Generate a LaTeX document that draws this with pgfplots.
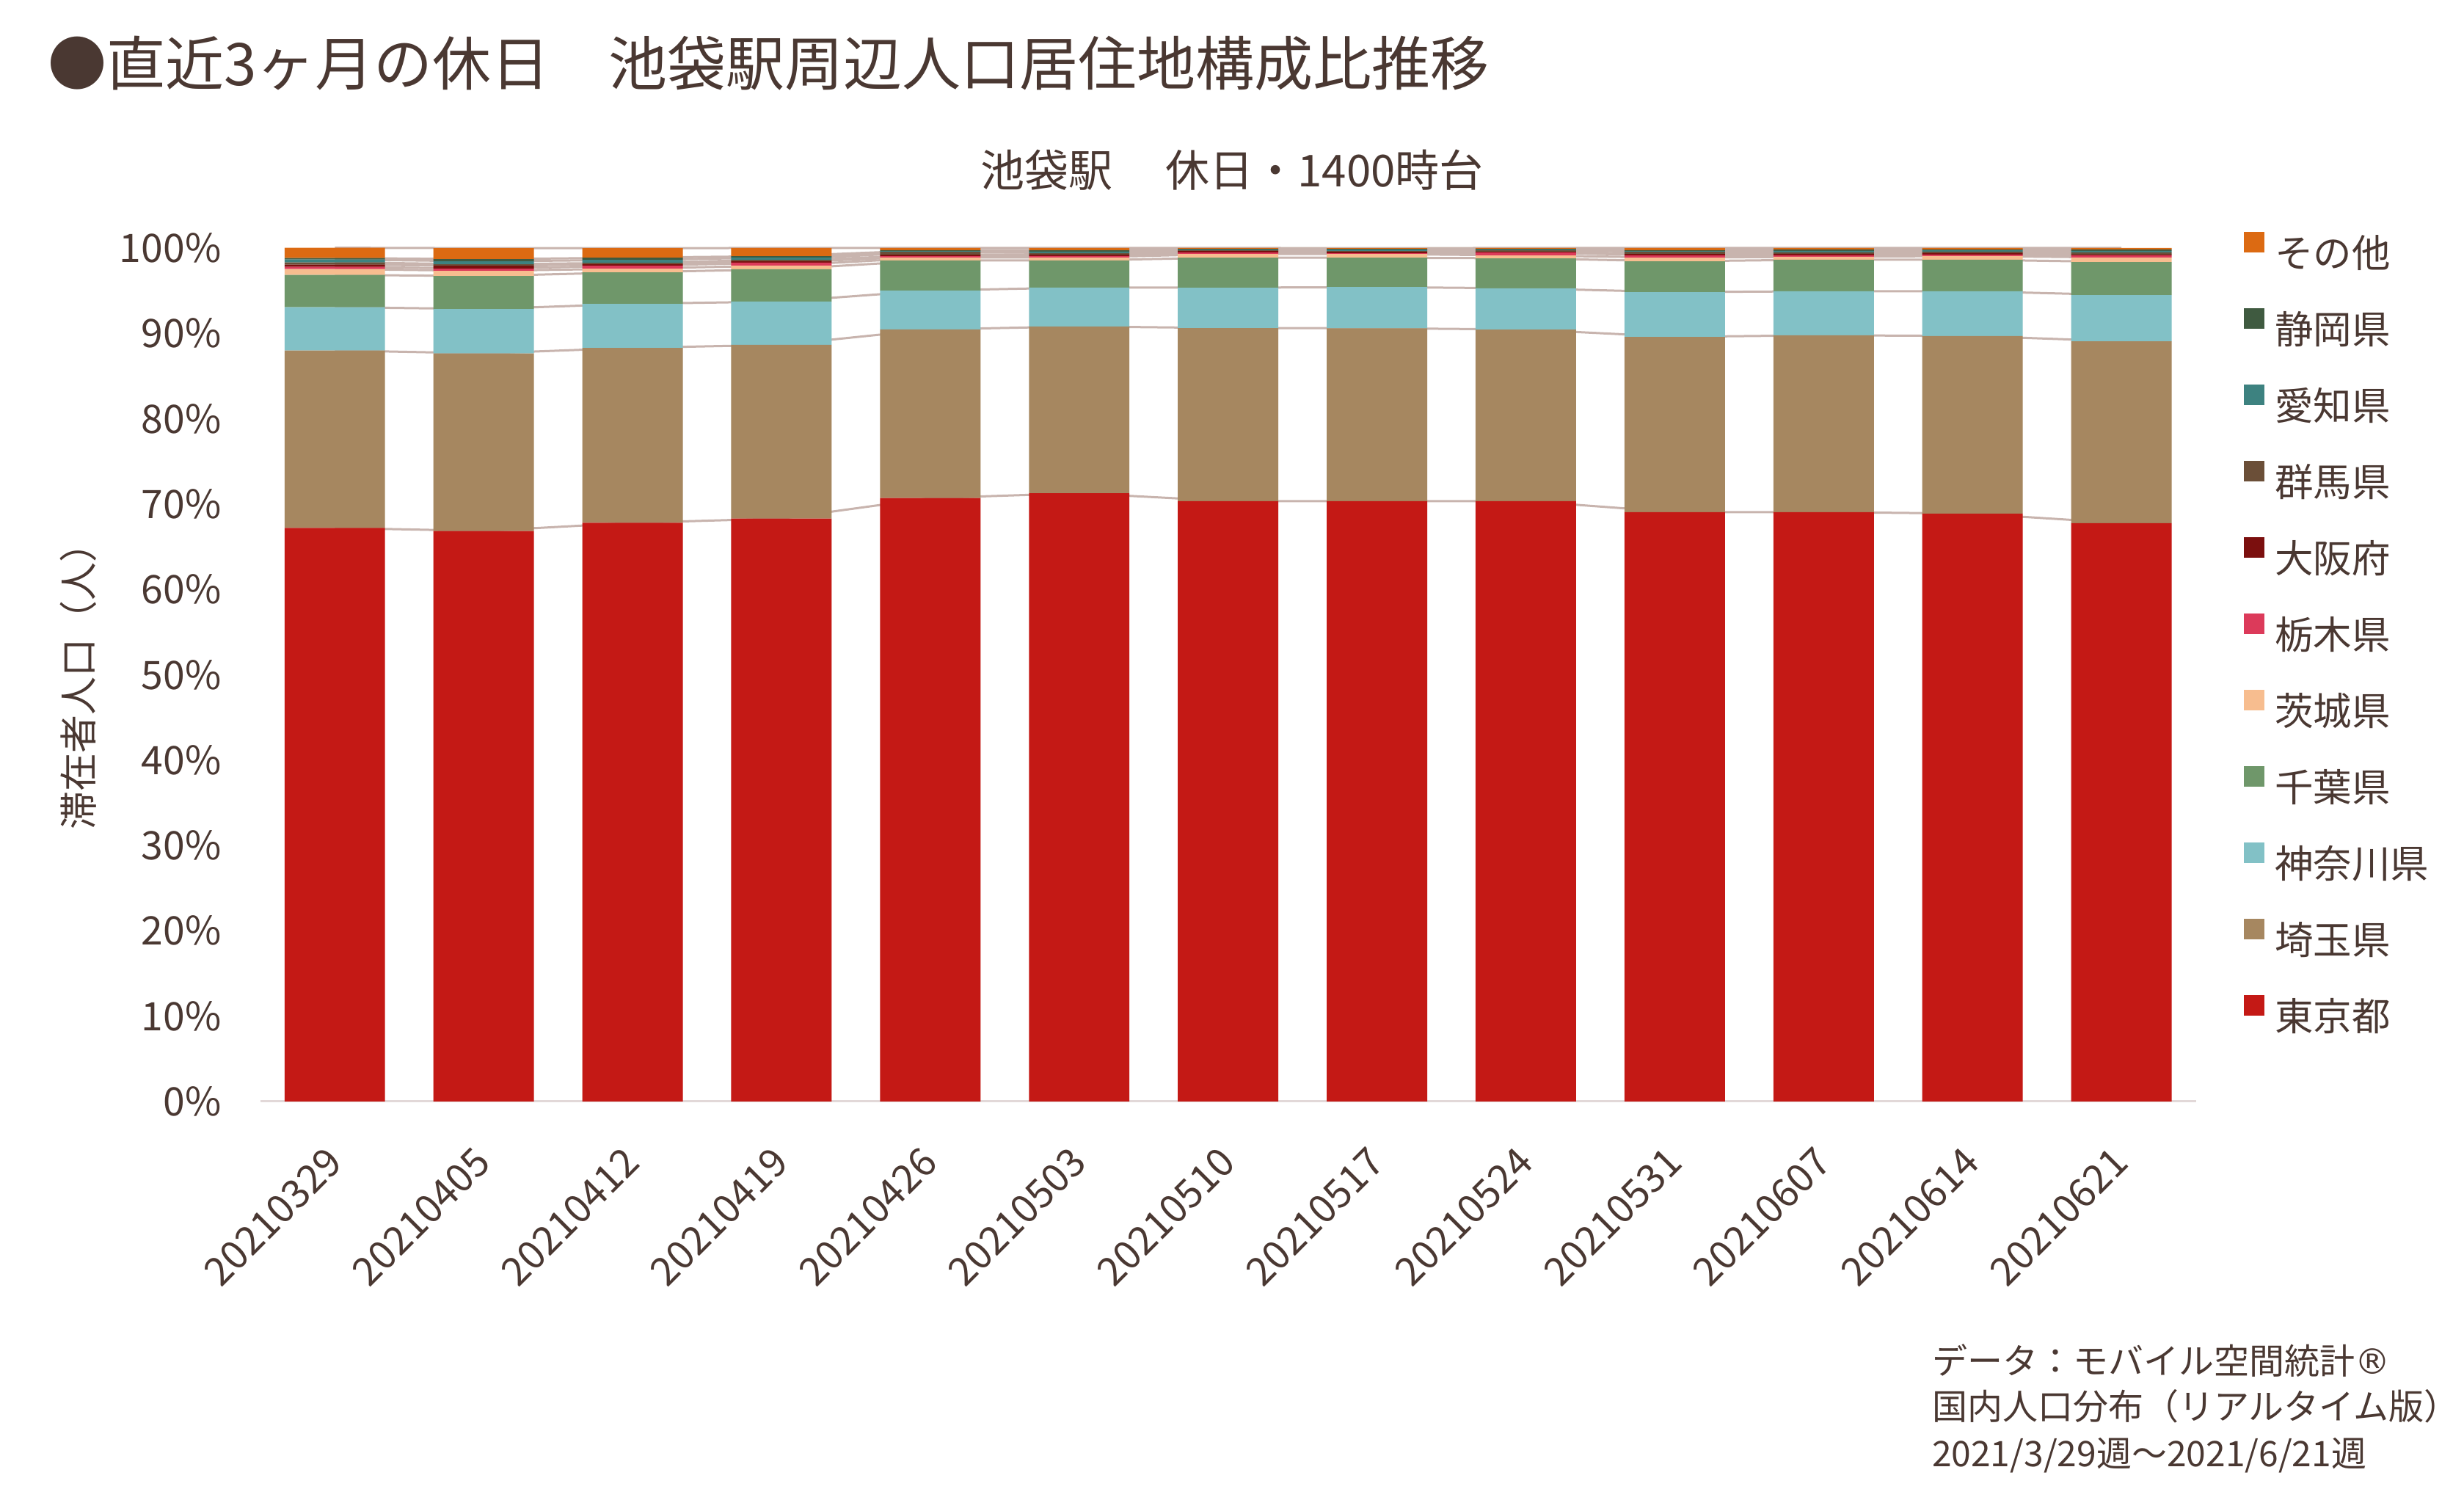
\documentclass[border=0pt]{standalone}
\usepackage{fontspec}
\setmainfont{Noto Sans CJK JP}
\newfontfamily\dejavu{DejaVu Sans}
\usepackage{pgfplots}
\usepackage{pgfplotstable}
\pgfplotsset{compat=1.18}
\definecolor{textcol}{RGB}{74,56,50}
\definecolor{cTokyo}{RGB}{196,25,21}
\definecolor{cSaitama}{RGB}{166,135,96}
\definecolor{cKanagawa}{RGB}{130,193,198}
\definecolor{cChiba}{RGB}{111,151,106}
\definecolor{cIbaraki}{RGB}{247,189,143}
\definecolor{cTochigi}{RGB}{220,58,90}
\definecolor{cOsaka}{RGB}{123,15,14}
\definecolor{cGunma}{RGB}{107,79,56}
\definecolor{cAichi}{RGB}{61,130,128}
\definecolor{cShizuoka}{RGB}{63,90,64}
\definecolor{cOther}{RGB}{220,106,18}
\definecolor{slinecol}{RGB}{200,180,174}
\definecolor{axgray}{RGB}{226,216,216}

\pgfplotstableread{
x tokyo saitama kanagawa chiba ibaraki tochigi osaka gunma aichi shizuoka other
0  67.20 20.80 5.07 3.78 0.69 0.26 0.26 0.26 0.34 0.17 1.20
1  66.85 20.80 5.20 3.87 0.60 0.26 0.34 0.17 0.34 0.26 1.29
2  67.80 20.50 5.16 3.70 0.43 0.34 0.17 0.17 0.34 0.26 1.12
3  68.30 20.36 5.07 3.78 0.43 0.34 0.17 0.17 0.26 0.17 0.95
4  70.70 19.76 4.56 3.52 0.34 0.17 0.17 0.34 0.09 0.09 0.26
5  71.27 19.54 4.56 3.18 0.34 0.17 0.17 0.17 0.17 0.17 0.26
6  70.35 20.27 4.73 3.52 0.43 0.17 0.17 0.09 0.09 0.09 0.09
7  70.35 20.25 4.82 3.44 0.43 0.09 0.17 0.09 0.17 0.09 0.09
8  70.35 20.10 4.82 3.52 0.34 0.34 0.09 0.17 0.09 0.09 0.09
9  69.06 20.53 5.24 3.61 0.43 0.26 0.17 0.26 0.09 0.09 0.26
10 69.06 20.72 5.16 3.70 0.34 0.17 0.17 0.17 0.17 0.17 0.17
11 68.88 20.81 5.24 3.70 0.43 0.17 0.17 0.17 0.17 0.09 0.17
12 67.77 21.30 5.42 3.87 0.52 0.26 0.09 0.26 0.17 0.17 0.17
}\data

\pgfplotsset{common/.style={
  at={(70.96pt,108.6pt)}, anchor=south west, scale only axis,
  width=527.54pt, height=232.6pt,
  xmin=-0.5, xmax=12.5, ymin=0, ymax=100, enlargelimits=false}}

\begin{document}
\begin{tikzpicture}
\path[use as bounding box] (0,0) rectangle (671.6pt,408.8pt);

% series lines (drawn beneath the bars)
\begin{axis}[common, hide axis, stack plots=y, clip=false]
\foreach \c in {tokyo,saitama,kanagawa,chiba,ibaraki,tochigi,osaka,gunma,aichi,shizuoka,other}{
  \addplot[color=slinecol, line width=0.6pt, mark=none] table[x=x,y=\c]{\data};
}
\end{axis}

\begin{axis}[common, ybar stacked, bar width=0.675,
  axis x line*=bottom, axis y line*=left,
  x axis line style={draw=axgray, line width=0.6pt, -},
  y axis line style={draw=none},
  major tick length=0pt, tick style={draw=none},
  xtick={0,...,12},
  xticklabels={20210329,20210405,20210412,20210419,20210426,20210503,20210510,20210517,20210524,20210531,20210607,20210614,20210621},
  xticklabel style={anchor=east, rotate=45, inner sep=0pt, font=\fontsize{10.7}{12}\selectfont, text=textcol},
  xticklabel shift=14.5pt,
  ytick={0,10,...,100},
  yticklabel={\pgfmathprintnumber{\tick}\%},
  yticklabel style={anchor=east, inner sep=0pt, font=\fontsize{10.7}{12}\selectfont, text=textcol},
  yticklabel shift=10.5pt,
  /pgf/number format/assume math mode=true,
  legend image code/.code={\fill[#1] (0pt,1.1pt) rectangle (5.6pt,6.7pt);},
  legend cell align=left, reverse legend,
  legend style={at={(1,1)}, anchor=north west, xshift=13.1pt, yshift=4.4pt,
    draw=none, fill=none, inner sep=0pt, outer sep=0pt,
    row sep=9.1pt, column sep=2.8pt,
    font=\fontsize{10.5}{12}\selectfont, text=textcol,
    nodes={inner sep=0pt, text height=8pt, text depth=2pt}},
]
\addplot[fill=cTokyo, draw=none] table[x=x,y=tokyo]{\data};
\addlegendentry{東京都}
\addplot[fill=cSaitama, draw=none] table[x=x,y=saitama]{\data};
\addlegendentry{埼玉県}
\addplot[fill=cKanagawa, draw=none] table[x=x,y=kanagawa]{\data};
\addlegendentry{神奈川県}
\addplot[fill=cChiba, draw=none] table[x=x,y=chiba]{\data};
\addlegendentry{千葉県}
\addplot[fill=cIbaraki, draw=none] table[x=x,y=ibaraki]{\data};
\addlegendentry{茨城県}
\addplot[fill=cTochigi, draw=none] table[x=x,y=tochigi]{\data};
\addlegendentry{栃木県}
\addplot[fill=cOsaka, draw=none] table[x=x,y=osaka]{\data};
\addlegendentry{大阪府}
\addplot[fill=cGunma, draw=none] table[x=x,y=gunma]{\data};
\addlegendentry{群馬県}
\addplot[fill=cAichi, draw=none] table[x=x,y=aichi]{\data};
\addlegendentry{愛知県}
\addplot[fill=cShizuoka, draw=none] table[x=x,y=shizuoka]{\data};
\addlegendentry{静岡県}
\addplot[fill=cOther, draw=none] table[x=x,y=other]{\data};
\addlegendentry{その他}
\end{axis}

\node[anchor=west, inner sep=0pt, text=textcol, font=\fontsize{16}{19}\selectfont] at (12.8pt,391.6pt) {●直近3ヶ月の休日　池袋駅周辺人口居住地構成比推移};
\node[anchor=center, inner sep=0pt, text=textcol, font=\fontsize{12}{14}\selectfont] at (335.8pt,362.5pt) {池袋駅\hspace{1.2em}休日・1400時台};
\node[rotate=90, anchor=center, inner sep=0pt, text=textcol, font=\fontsize{10.4}{12}\selectfont] at (21.3pt,224.3pt) {滞在者人口（人）};
\node[anchor=base west, inner sep=0pt, text=textcol, font=\fontsize{9.6}{11}\selectfont] at (526.4pt,34.3pt) {データ：モバイル空間統計{\dejavu ®}};
\node[anchor=base west, inner sep=0pt, text=textcol, font=\fontsize{9.6}{11}\selectfont] at (526.4pt,21.9pt) {国内人口分布（リアルタイム版）};
\node[anchor=base west, inner sep=0pt, text=textcol, font=\fontsize{9.6}{11}\selectfont] at (526.4pt,9.0pt) {2021/3/29週～2021/6/21週};
\end{tikzpicture}
\end{document}
